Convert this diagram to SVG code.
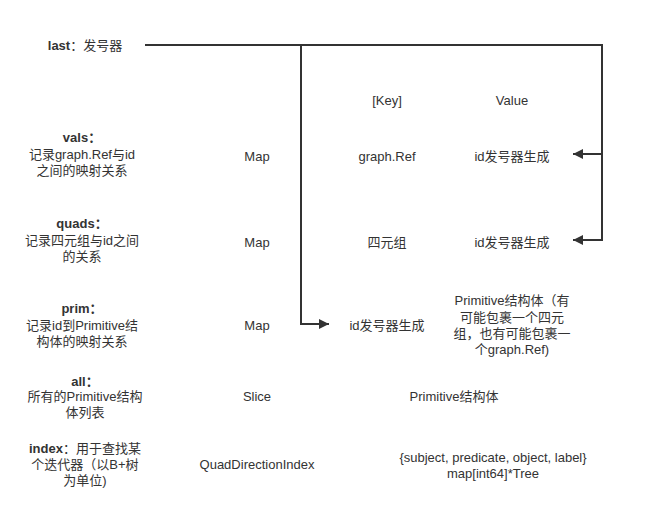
<svg xmlns="http://www.w3.org/2000/svg" width="655" height="508" viewBox="0 0 655 508">
<defs>
<style>
text{font-family:"Liberation Sans","Noto Sans CJK SC",sans-serif;font-size:13px;fill:#333;text-anchor:middle;dominant-baseline:central}
.b{font-weight:bold}
.c{fill:none;stroke:#333;stroke-width:2}
</style>
<marker id="ah" viewBox="0 0 10 10" refX="10" refY="5" markerWidth="16" markerHeight="10" markerUnits="userSpaceOnUse" orient="auto"><path d="M0,0 L10,5 L0,10 z" fill="#333"/></marker>
</defs>
<rect width="655" height="508" fill="#fff"/>
<g id="connectors">
<path class="c" d="M145,45 H602 V154 H573" marker-end="url(#ah)"/>
<path class="c" d="M602,154 V240 H573" marker-end="url(#ah)"/>
<path class="c" d="M301,45 V324 H329" marker-end="url(#ah)"/>
</g>
<g id="last"><text x="85" y="45"><tspan class="b">last</tspan>：发号器</text></g>
<g id="header"><text x="387" y="100">[Key]</text><text x="512" y="100">Value</text></g>
<g id="vals">
<text x="82" y="137" class="b">vals：</text>
<text x="82" y="154">记录graph.Ref与id</text>
<text x="82" y="170">之间的映射关系</text>
<text x="257" y="156">Map</text>
<text x="387" y="156">graph.Ref</text>
<text x="512" y="156">id发号器生成</text>
</g>
<g id="quads">
<text x="82" y="223" class="b">quads：</text>
<text x="82" y="240">记录四元组与id之间</text>
<text x="82" y="256">的关系</text>
<text x="257" y="242">Map</text>
<text x="387" y="242">四元组</text>
<text x="512" y="242">id发号器生成</text>
</g>
<g id="prim">
<text x="82" y="308" class="b">prim：</text>
<text x="82" y="325">记录id到Primitive结</text>
<text x="82" y="341">构体的映射关系</text>
<text x="257" y="325">Map</text>
<text x="387" y="325">id发号器生成</text>
<text x="512" y="300">Primitive结构体（有</text>
<text x="512" y="317">可能包裹一个四元</text>
<text x="512" y="333">组，也有可能包裹一</text>
<text x="512" y="349">个graph.Ref)</text>
</g>
<g id="all">
<text x="85" y="381" class="b">all：</text>
<text x="85" y="396">所有的Primitive结构</text>
<text x="85" y="412">体列表</text>
<text x="257" y="396">Slice</text>
<text x="454" y="396">Primitive结构体</text>
</g>
<g id="index">
<text x="85" y="448"><tspan class="b">index</tspan>：用于查找某</text>
<text x="85" y="464">个迭代器（以B+树</text>
<text x="85" y="480">为单位)</text>
<text x="257" y="464">QuadDirectionIndex</text>
<text x="493" y="457">{subject, predicate, object, label}</text>
<text x="493" y="473">map[int64]*Tree</text>
</g>
</svg>
